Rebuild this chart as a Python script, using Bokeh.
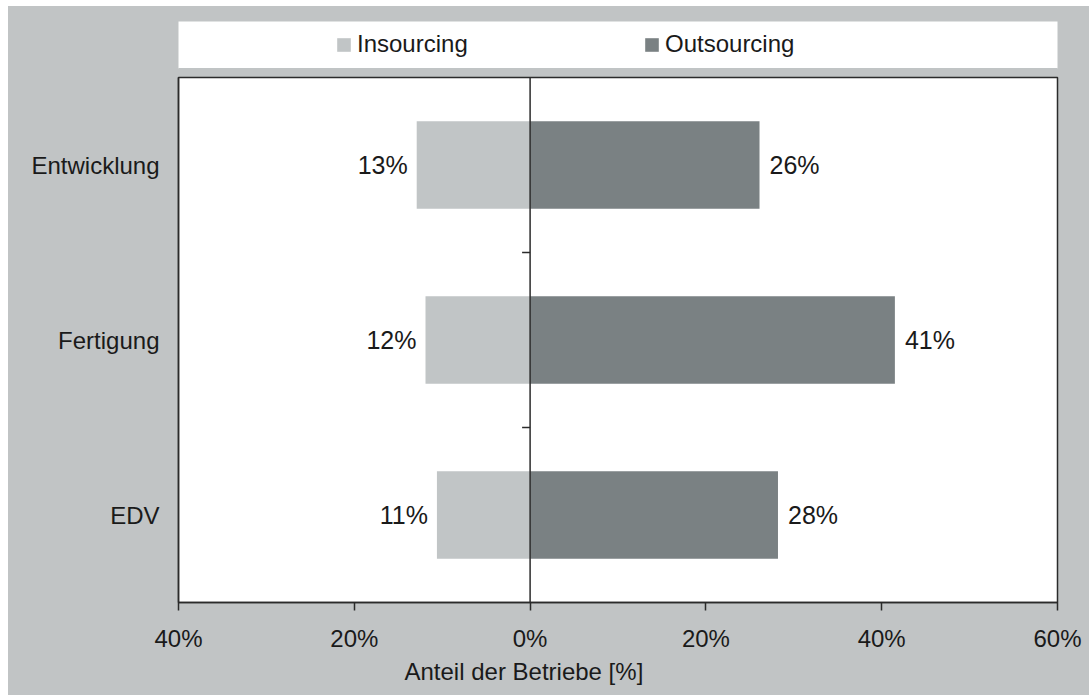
import math
from bokeh.plotting import figure
from bokeh.models import (Range1d, FixedTicker, Span, Legend, LegendItem, Title, ColumnDataSource)
from bokeh.layouts import column
from bokeh.core.properties import value
from bokeh.embed import file_html
from bokeh.resources import INLINE

# ---------------- data ----------------
categories = ["Entwicklung", "Fertigung", "EDV"]
insourcing = [12.9, 11.9, 10.6]
outsourcing = [26.1, 41.5, 28.2]
insourcing_labels = ["13%", "12%", "11%"]
outsourcing_labels = ["26%", "41%", "28%"]
x_ticks = [-40, -20, 0, 20, 40, 60]
series_names = ["Insourcing", "Outsourcing"]
axis_title = "Anteil der Betriebe [%]"

# ---------------- style ----------------
BG = "#c1c4c5"
C_IN = "#c1c5c6"
C_OUT = "#7a8183"
TXT = "#1a1a1a"
LINE = "#2b2b2b"
FONT = "Liberation Sans"

n = len(categories)
ys = [n - i - 0.5 for i in range(n)]
boundaries = [float(k) for k in range(1, n)]

src = ColumnDataSource(dict(
    y=ys,
    cat=categories,
    left_in=[-v for v in insourcing],
    right_out=outsourcing,
    zero=[0] * n,
    lab_in=insourcing_labels,
    lab_out=outsourcing_labels,
))

# ---------------- legend strip ----------------
top = figure(width=1081, height=70, x_range=Range1d(0, 1), y_range=Range1d(0, 1),
             output_backend="svg", toolbar_location=None,
             x_axis_type=None, y_axis_type=None,
             min_border_left=170, min_border_right=31, min_border_top=15, min_border_bottom=8)
top.background_fill_color = "white"
top.border_fill_color = BG
top.outline_line_color = None
top.xgrid.visible = False
top.ygrid.visible = False
# legend-only renderers (kept outside the visible range of this strip)
d1 = top.hbar(y=[-5], left=[0], right=[1], height=0.5, fill_color=C_IN, line_color=None)
d2 = top.hbar(y=[-5], left=[0], right=[1], height=0.5, fill_color=C_OUT, line_color=None)
legend = Legend(items=[LegendItem(label=series_names[0], renderers=[d1], index=0),
                       LegendItem(label=series_names[1], renderers=[d2], index=0)],
                orientation="horizontal", location=(157, 10), padding=0, margin=0,
                spacing=146, glyph_width=17, glyph_height=17, label_width=140,
                label_standoff=5, label_height=24,
                background_fill_alpha=0, border_line_alpha=0,
                label_text_font=FONT, label_text_font_size="24px", label_text_color=TXT)
top.add_layout(legend)

# ---------------- main chart ----------------
p = figure(width=1081, height=619, x_range=Range1d(x_ticks[0], x_ticks[-1]), y_range=Range1d(0, n),
           output_backend="svg", toolbar_location=None,
           min_border_left=170, min_border_right=32, min_border_top=1, min_border_bottom=93)
p.background_fill_color = "white"
p.border_fill_color = BG
p.outline_line_color = LINE
p.outline_line_width = 1.5
p.xgrid.visible = False
p.ygrid.visible = False

p.hbar(y="y", left="left_in", right="zero", height=0.5, source=src, fill_color=C_IN, line_color=None)
p.hbar(y="y", left="zero", right="right_out", height=0.5, source=src, fill_color=C_OUT, line_color=None)

p.add_layout(Span(location=0, dimension="height", line_color=LINE, line_width=1.5))
p.ray(x=[0] * len(boundaries), y=boundaries, length=8, length_units="screen", angle=math.pi,
      line_color=LINE, line_width=1.5)

p.text(x="left_in", y="y", text="lab_in", source=src, x_offset=-9,
       text_align="right", text_baseline="middle",
       text_font=value(FONT), text_font_size=value("25px"), text_color=TXT)
p.text(x="right_out", y="y", text="lab_out", source=src, x_offset=10,
       text_align="left", text_baseline="middle",
       text_font=value(FONT), text_font_size=value("25px"), text_color=TXT)

xa = p.xaxis[0]
xa.ticker = FixedTicker(ticks=x_ticks)
xa.major_label_overrides = {t: f"{abs(t)}%" for t in x_ticks}
xa.major_tick_out = 8
xa.major_tick_in = 0
xa.minor_tick_line_color = None
xa.major_tick_line_color = LINE
xa.major_tick_line_width = 1.5
xa.axis_line_color = LINE
xa.axis_line_width = 1.5
xa.major_label_standoff = 14
xa.major_label_text_font = FONT
xa.major_label_text_font_size = "24px"
xa.major_label_text_color = TXT

ya = p.yaxis[0]
ya.ticker = FixedTicker(ticks=ys)
ya.major_label_overrides = {y: c for y, c in zip(ys, categories)}
ya.major_tick_out = 0
ya.major_tick_in = 0
ya.minor_tick_line_color = None
ya.axis_line_color = LINE
ya.axis_line_width = 1.5
ya.major_label_standoff = 19
ya.major_label_text_font = FONT
ya.major_label_text_font_size = "24px"
ya.major_label_text_color = TXT

p.add_layout(Title(text=axis_title, align="left", offset=226, standoff=2,
                   text_font=FONT, text_font_size="24px", text_font_style="normal",
                   text_color=TXT), "below")

layout = column(top, p, spacing=0, margin=(6, 0, 0, 8), styles={"background-color": BG})
open("out.html", "w").write(file_html(layout, INLINE))
